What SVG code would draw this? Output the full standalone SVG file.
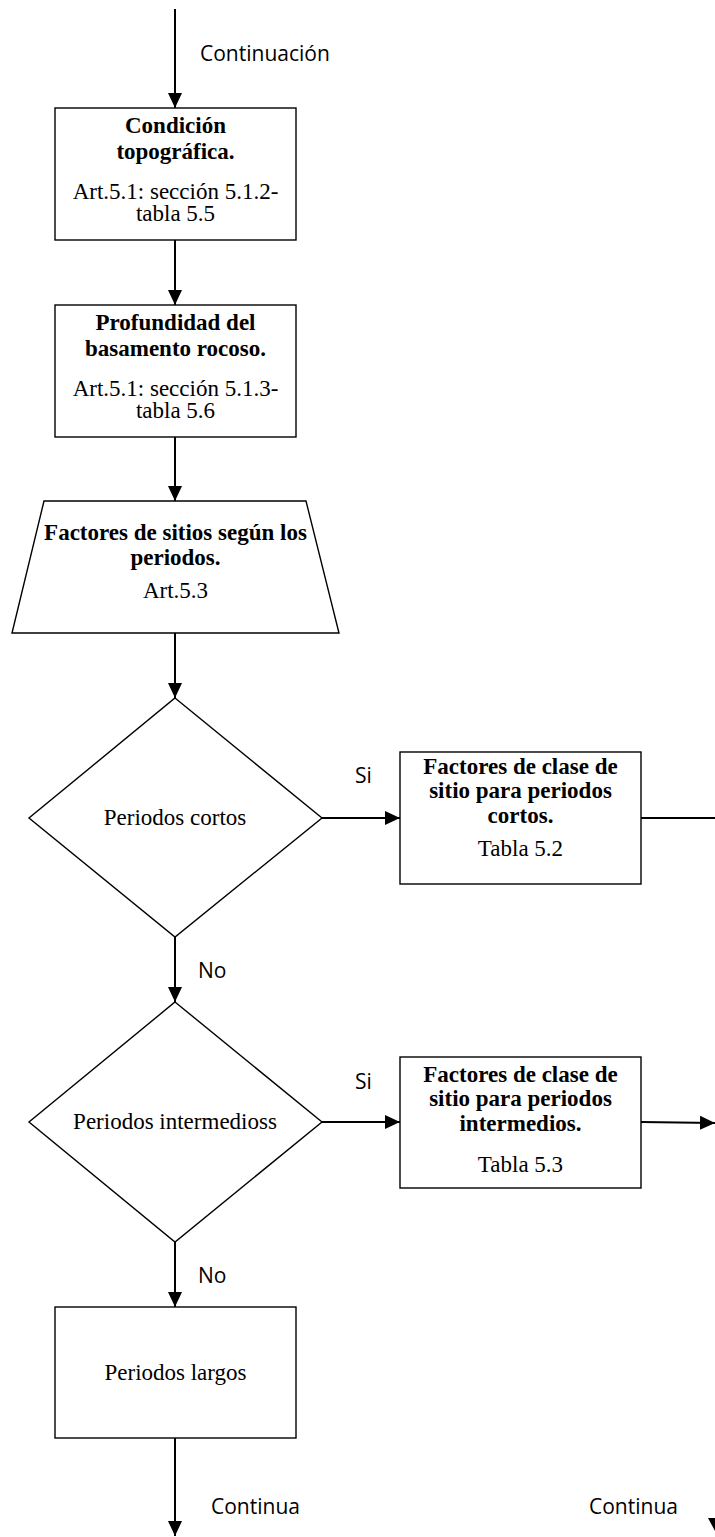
<svg xmlns="http://www.w3.org/2000/svg" width="715" height="1537" viewBox="0 0 715 1537">
  <style>
    .shape { fill: #ffffff; stroke: #000000; stroke-width: 1.4; }
    .link { fill: none; stroke: #000000; stroke-width: 2; }
    .t { font-family: "Liberation Serif", "Times New Roman", serif; font-size: 23px; fill: #000000; text-anchor: middle; }
    .b { font-weight: bold; }
    .lbl { font-family: "Open Sans", "Liberation Sans", sans-serif; font-size: 21px; fill: #000000; }
  </style>
  <defs>
    <marker id="arrow" markerUnits="userSpaceOnUse" markerWidth="16" markerHeight="16" viewBox="0 0 16 16" refX="15" refY="8" orient="auto">
      <path d="M0,1 L15,8 L0,15 Z" fill="#000000"/>
    </marker>
  </defs>

  <!-- connectors -->
  <g id="connectors">
    <line class="link" x1="175" y1="9" x2="175" y2="108" marker-end="url(#arrow)"/>
    <line class="link" x1="175" y1="240" x2="175" y2="305" marker-end="url(#arrow)"/>
    <line class="link" x1="175" y1="437" x2="175" y2="501" marker-end="url(#arrow)"/>
    <line class="link" x1="175" y1="633" x2="175" y2="698" marker-end="url(#arrow)"/>
    <line class="link" x1="322" y1="818" x2="400" y2="818" marker-end="url(#arrow)"/>
    <line class="link" x1="641" y1="818" x2="715" y2="818"/>
    <line class="link" x1="175" y1="937" x2="175" y2="1002" marker-end="url(#arrow)"/>
    <line class="link" x1="322" y1="1122" x2="400" y2="1122" marker-end="url(#arrow)"/>
    <line class="link" x1="641" y1="1122" x2="715" y2="1123" marker-end="url(#arrow)"/>
    <line class="link" x1="175" y1="1242" x2="175" y2="1307" marker-end="url(#arrow)"/>
    <line class="link" x1="175" y1="1438" x2="175" y2="1536" marker-end="url(#arrow)"/>
    <polygon points="708,1518 722,1518 715,1531" fill="#000000"/>
    <text class="lbl" x="200" y="61">Continuación</text>
    <text class="lbl" x="355" y="783">Si</text>
    <text class="lbl" x="198" y="978">No</text>
    <text class="lbl" x="355" y="1089">Si</text>
    <text class="lbl" x="198" y="1283">No</text>
    <text class="lbl" x="211" y="1514">Continua</text>
    <text class="lbl" x="589" y="1514">Continua</text>
  </g>

  <!-- topographic condition -->
  <g id="condicion-topografica">
    <rect class="shape" x="55" y="108" width="241" height="132"/>
    <text class="t b" x="175.5" y="133">Condición</text>
    <text class="t b" x="175.5" y="159">topográfica.</text>
    <text class="t" x="175.5" y="199">Art.5.1: sección 5.1.2-</text>
    <text class="t" x="175.5" y="221">tabla 5.5</text>
  </g>

  <!-- bedrock depth -->
  <g id="profundidad-basamento">
    <rect class="shape" x="55" y="305" width="241" height="132"/>
    <text class="t b" x="175.5" y="330">Profundidad del</text>
    <text class="t b" x="175.5" y="356">basamento rocoso.</text>
    <text class="t" x="175.5" y="396">Art.5.1: sección 5.1.3-</text>
    <text class="t" x="175.5" y="418">tabla 5.6</text>
  </g>

  <!-- site factors by period -->
  <g id="factores-sitio">
    <polygon class="shape" points="44,501 306,501 339,633 12,633"/>
    <text class="t b" x="175.5" y="540">Factores de sitios según los</text>
    <text class="t b" x="175.5" y="565">periodos.</text>
    <text class="t" x="175.5" y="598">Art.5.3</text>
  </g>

  <!-- short periods decision -->
  <g id="periodos-cortos">
    <polygon class="shape" points="175,698 322,818 175,937 29,818"/>
    <text class="t" x="175" y="825">Periodos cortos</text>
  </g>

  <g id="factores-cortos">
    <rect class="shape" x="400" y="752" width="241" height="132"/>
    <text class="t b" x="520.5" y="774">Factores de clase de</text>
    <text class="t b" x="520.5" y="798">sitio para periodos</text>
    <text class="t b" x="520.5" y="823">cortos.</text>
    <text class="t" x="520.5" y="856">Tabla 5.2</text>
  </g>

  <!-- intermediate periods decision -->
  <g id="periodos-intermedios">
    <polygon class="shape" points="175,1002 322,1122 175,1242 29,1122"/>
    <text class="t" x="175" y="1129">Periodos intermedioss</text>
  </g>

  <g id="factores-intermedios">
    <rect class="shape" x="400" y="1057" width="241" height="131"/>
    <text class="t b" x="520.5" y="1082">Factores de clase de</text>
    <text class="t b" x="520.5" y="1106">sitio para periodos</text>
    <text class="t b" x="520.5" y="1131">intermedios.</text>
    <text class="t" x="520.5" y="1172">Tabla 5.3</text>
  </g>

  <!-- long periods -->
  <g id="periodos-largos">
    <rect class="shape" x="55" y="1307" width="241" height="131"/>
    <text class="t" x="175.5" y="1380">Periodos largos</text>
  </g>
</svg>
